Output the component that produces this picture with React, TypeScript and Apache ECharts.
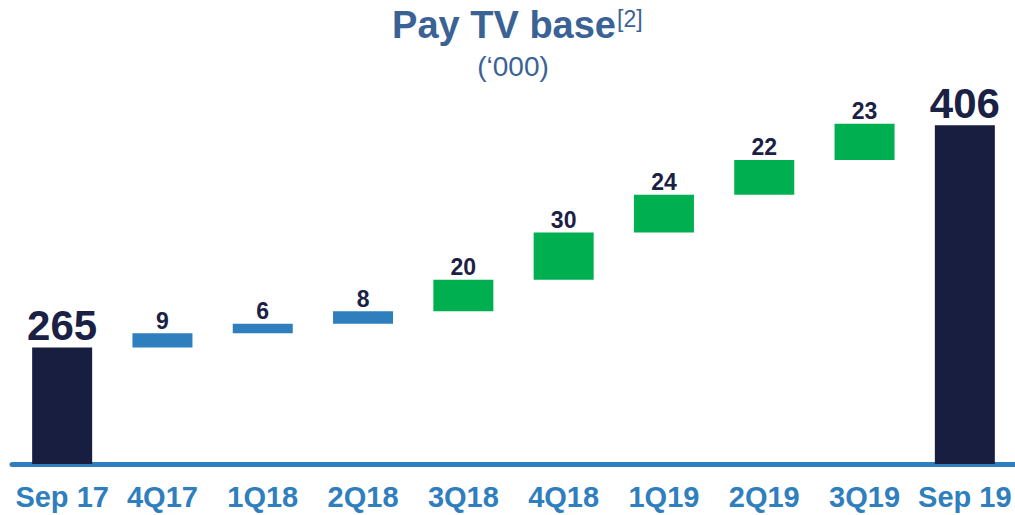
import React, { useEffect, useRef } from "react";
import * as echarts from "echarts";

const categories = ["Sep 17", "4Q17", "1Q18", "2Q18", "3Q18", "4Q18", "1Q19", "2Q19", "3Q19", "Sep 19"];
const startValue = 265;
const deltas = [9, 6, 8, 20, 30, 24, 22, 23];
const endValue = 406;
const deltaColors = ["#2F7EBD", "#2F7EBD", "#2F7EBD", "#00AF50", "#00AF50", "#00AF50", "#00AF50", "#00AF50"];

const FONT = "'Liberation Sans', Arial, Helvetica, sans-serif";
const NAVY = "#171E40";
const LABEL = "#1B2145";
const AXIS_BLUE = "#2F7EBD";
const TITLE = "#3B6294";

export default function App() {
  const ref = useRef<HTMLDivElement>(null);

  useEffect(() => {
    if (!ref.current) return;
    const chart = echarts.init(ref.current, undefined, { renderer: "svg" });

    const bases: number[] = [0];
    let cum = startValue;
    deltas.forEach((d) => {
      bases.push(cum);
      cum += d;
    });
    bases.push(0);

    const visible: any[] = [
      {
        value: startValue,
        itemStyle: { color: NAVY },
        label: { fontSize: 42, distance: 1 },
      },
      ...deltas.map((d, i) => ({
        value: d,
        itemStyle: { color: deltaColors[i] },
        label: { fontSize: 23, distance: 1 },
      })),
      {
        value: endValue,
        itemStyle: { color: NAVY },
        label: { fontSize: 42, distance: 1 },
      },
    ];

    chart.setOption({
      animation: false,
      graphic: [
        {
          type: "text",
          style: {
            text: "Pay TV base",
            x: 616,
            y: 25,
            textAlign: "right",
            textVerticalAlign: "middle",
            font: `bold 38px ${FONT}`,
            fill: TITLE,
          },
        },
        {
          type: "text",
          style: {
            text: "[2]",
            x: 617,
            y: 19,
            textAlign: "left",
            textVerticalAlign: "middle",
            font: `23px ${FONT}`,
            fill: TITLE,
          },
        },
        {
          type: "text",
          style: {
            text: "(\u2018000)",
            x: 513,
            y: 66,
            textAlign: "center",
            textVerticalAlign: "middle",
            font: `28px ${FONT}`,
            fill: TITLE,
          },
        },
      ],
      grid: { left: 12, width: 1003, top: 56, bottom: 51, containLabel: false },
      xAxis: {
        type: "category",
        data: categories,
        axisLine: { show: true, lineStyle: { color: AXIS_BLUE, width: 5 } },
        axisTick: { show: false },
        axisLabel: {
          color: AXIS_BLUE,
          fontSize: 29,
          fontWeight: "bold",
          fontFamily: FONT,
          margin: 18,
          interval: 0,
        },
      },
      yAxis: {
        type: "value",
        min: 191,
        max: 450,
        show: false,
        splitLine: { show: false },
      },
      series: [
        {
          type: "bar",
          stack: "w",
          data: bases,
          barWidth: 60,
          itemStyle: { color: "transparent" },
          emphasis: { disabled: true },
          silent: true,
        },
        {
          type: "bar",
          stack: "w",
          data: visible,
          barWidth: 60,
          label: {
            show: true,
            position: "top",
            color: LABEL,
            fontWeight: "bold",
            fontFamily: FONT,
          },
        },
      ],
    });

    return () => chart.dispose();
  }, []);

  return (
    <div
      ref={ref}
      style={{ position: "fixed", left: 0, top: 0, width: 1015, height: 515, background: "#fff" }}
    />
  );
}
